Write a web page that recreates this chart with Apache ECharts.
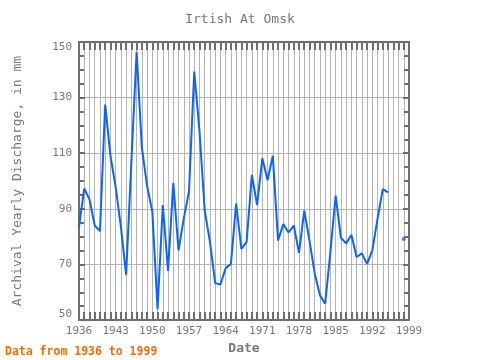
<!DOCTYPE html>
<html>
<head>
<meta charset="utf-8">
<script src="https://cdn.jsdelivr.net/npm/echarts@6/dist/echarts.min.js"></script>
<style>html,body{margin:0;padding:0;background:#fff;}#c{width:480px;height:360px;}</style>
</head>
<body>
<div id="c"></div>
<script>
const years = [1936,1937,1938,1939,1940,1941,1942,1943,1944,1945,1946,1947,1948,1949,1950,1951,1952,1953,1954,1955,1956,1957,1958,1959,1960,1961,1962,1963,1964,1965,1966,1967,1968,1969,1970,1971,1972,1973,1974,1975,1976,1977,1978,1979,1980,1981,1982,1983,1984,1985,1986,1987,1988,1989,1990,1991,1992,1993,1994,1995,1996,1997,1998,1999];
const discharge = [83.5,97.3,93.4,84,82,127.5,109.1,97.8,83.5,66.3,107,146.5,112,98.3,88.9,53.9,91.4,67.7,99.3,75.1,86.5,96.3,139.4,118,89.4,78.1,63.3,62.8,68.7,70.2,91.9,75.6,78.1,102.2,91.4,108.2,100.3,109.1,78.6,84.5,81.5,84,74.2,89.4,78.6,66.8,58.9,55.9,74.6,94.8,79.6,77.6,80.6,72.7,74,70.2,75.1,86.5,97.1,95.9,null,null,79.2,null];
const xTickLabels = [1936,1943,1950,1957,1964,1971,1978,1985,1992,1999];
const yTickLabels = [50,70,90,110,130,150];

const lineData = years.map((y,i)=>[y, discharge[i]]);
const lonePoints = lineData.filter((p,i)=>p[1]!==null && (i===0||discharge[i-1]===null) && (i===discharge.length-1||discharge[i+1]===null));

const frame = '#6e6e6e', grid = '#b4b4b4', txt = '#787878';
const font = '"DejaVu Sans Mono", monospace';
const chart = echarts.init(document.getElementById('c'));
const xBase = {type:'value', min:1936, max:1999, interval:1,
  axisLine:{show:true, lineStyle:{color:frame, width:2}},
  axisTick:{show:true, inside:true, length:8, lineStyle:{color:frame, width:2}}};
const yBase = {type:'value', min:50, max:150, interval:20,
  axisLine:{show:true, lineStyle:{color:frame, width:2}},
  axisTick:{show:true, inside:true, length:6, lineStyle:{color:frame, width:2}},
  minorTick:{show:true, splitNumber:4, length:5, lineStyle:{color:frame, width:2}}};
chart.setOption({
  animation:false,
  title:{text:'Irtish At Omsk', left:'center', top:8,
    textStyle:{fontFamily:font, fontSize:13, fontWeight:'normal', color:txt}},
  grid:{left:79, right:71, top:42, bottom:38},
  xAxis:[
    Object.assign({}, xBase, {position:'bottom',
      name:'Date', nameLocation:'middle', nameGap:19,
      nameTextStyle:{fontFamily:font, fontSize:13, fontWeight:'bold', color:txt},
      axisLabel:{show:true, margin:6, fontFamily:font, fontSize:11, color:txt,
        formatter:v=>xTickLabels.includes(v)?String(v):''},
      splitLine:{show:true, lineStyle:{color:grid, width:1}}}),
    Object.assign({}, xBase, {position:'top', axisLabel:{show:false}, splitLine:{show:false}})
  ],
  yAxis:[
    Object.assign({}, yBase, {position:'left',
      name:'Archival Yearly Discharge, in mm', nameLocation:'middle', nameGap:55,
      nameTextStyle:{fontFamily:font, fontSize:13, color:txt},
      axisLabel:{show:true, margin:7, fontFamily:font, fontSize:11, color:txt,
        verticalAlignMinLabel:'bottom', verticalAlignMaxLabel:'top',
        formatter:v=>yTickLabels.includes(v)?String(v):''},
      splitLine:{show:true, lineStyle:{color:grid, width:1}}}),
    Object.assign({}, yBase, {position:'right', axisLabel:{show:false}, splitLine:{show:false}})
  ],
  graphic:[{type:'text', left:5, top:346,
    style:{text:'Data from 1936 to 1999', fill:'#ff6a00', font:'bold 11.5px "DejaVu Sans Mono", monospace'}}],
  series:[
    {type:'line', data:lineData, showSymbol:false, connectNulls:false,
      lineStyle:{color:'#0a64ff', width:2}, itemStyle:{color:'#0a64ff'}},
    {type:'scatter', data:lonePoints, symbol:'circle', symbolSize:4,
      itemStyle:{color:'#0a64ff'}}
  ]
});
</script>
</body>
</html>
